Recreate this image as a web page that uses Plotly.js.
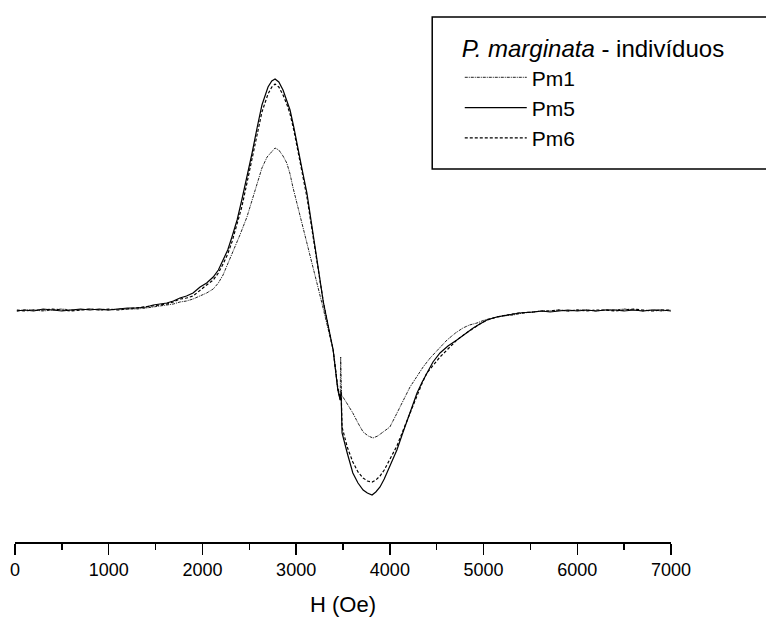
<!DOCTYPE html>
<html>
<head>
<meta charset="utf-8">
<script src="https://cdn.plot.ly/plotly-3.0.1.min.js"></script>
<style>html,body{margin:0;padding:0;background:#fff;}#chart{width:766px;height:617px;}</style>
</head>
<body>
<div id="chart"></div>
<script>
// Field H (Oe) and EPR signal (arbitrary units)
const xPm5 = [20,100,200,300,400,500,600,700,800,900,1000,1100,1200,1300,1400,1475,1550,1620,1690,1760,1830,1900,1975,2045,2115,2170,2220,2270,2315,2370,2420,2475,2530,2585,2635,2700,2740,2775,2815,2860,2900,2935,2975,3020,3065,3115,3180,3255,3290,3340,3395,3445,3470,3480,3490,3545,3605,3660,3715,3760,3810,3850,3895,3940,3980,4030,4075,4130,4185,4240,4290,4345,4395,4460,4535,4620,4715,4800,4890,4960,5035,5140,5250,5380,5530,5620,5710,5800,5900,6000,6100,6200,6300,6400,6500,6600,6700,6800,6900,7000];
const yPm5 = [-1,0,-1,1,0,-1,0,1,0,1,0,1,2,2,3,5,6,7,9,12,14,17,23,27,33,40,50,60,73,90,110,133,157,183,205,223,229,231,228,220,210,200,183,163,140,117,77,30,8,-15,-40,-80,-90,-84,-123,-143,-163,-173,-180,-183,-185,-182,-177,-169,-160,-150,-140,-125,-110,-96,-83,-72,-63,-52,-43,-36,-30,-24,-18,-14,-10,-7,-5,-3,-2,-1,-2,-1,0,-1,0,-1,0,0,-1,0,-1,0,0,-1];

const xPm6 = [20,100,200,300,400,500,600,700,800,900,1000,1100,1200,1300,1400,1475,1550,1620,1690,1760,1830,1900,1975,2045,2115,2170,2220,2270,2315,2370,2420,2475,2530,2585,2635,2700,2740,2775,2815,2860,2900,2935,2975,3020,3065,3115,3180,3255,3290,3340,3395,3445,3470,3480,3490,3545,3605,3660,3715,3760,3810,3850,3895,3940,3980,4030,4075,4130,4185,4240,4290,4345,4395,4460,4535,4620,4715,4800,4890,4960,5035,5140,5250,5380,5530,5620,5710,5800,5900,6000,6100,6200,6300,6400,6500,6600,6700,6800,6900,7000];
const yPm6 = [0,-1,0,0,1,0,-1,0,1,0,1,0,1,2,3,4,5,6,8,11,12,14,20,25,30,37,46,56,68,85,103,127,150,176,198,216,223,226,223,215,206,196,180,160,137,113,75,30,8,-15,-40,-78,-88,-80,-117,-137,-152,-162,-168,-171,-172,-170,-166,-160,-153,-145,-136,-123,-110,-97,-85,-73,-63,-55,-47,-39,-30,-24,-18,-14,-10,-7,-5,-3,-2,-1,-1,0,-1,0,-1,0,0,-1,0,1,0,-1,0,0];

const xPm1 = [20,100,200,300,400,500,600,700,800,900,1000,1100,1200,1300,1400,1475,1550,1620,1690,1760,1830,1900,1975,2045,2115,2170,2220,2270,2325,2400,2475,2530,2580,2635,2690,2740,2775,2815,2860,2900,2935,2965,3020,3075,3130,3180,3235,3285,3340,3395,3445,3470,3475,3485,3520,3560,3605,3660,3715,3770,3820,3870,3915,3960,4000,4055,4110,4160,4215,4285,4355,4430,4505,4560,4610,4700,4780,4850,4930,5010,5100,5200,5315,5420,5530,5620,5710,5800,5900,6000,6100,6200,6300,6400,6500,6600,6700,6800,6900,7000];
const yPm1 = [-1,0,0,-1,0,1,0,0,1,0,0,1,1,1,2,3,4,5,6,8,9,11,14,17,21,27,35,46,58,75,93,110,127,142,153,159,162,160,154,147,136,123,103,83,62,43,22,3,-18,-40,-80,-90,-47,-85,-90,-96,-103,-113,-122,-126,-128,-126,-123,-120,-117,-107,-97,-87,-77,-67,-57,-48,-40,-35,-30,-23,-18,-15,-13,-10,-8,-6,-5,-3,-2,-1,-1,0,-1,0,0,-1,0,0,1,0,-1,0,-1,0];

const names = ['Pm1','Pm5','Pm6'];
const tickVals = [0,1000,2000,3000,4000,5000,6000,7000];
const tickText = ['0','1000','2000','3000','4000','5000','6000','7000'];
const legendTitle = '<i>P. marginata</i> - indivíduos';
const xTitle = 'H (Oe)';

const FONT = 'Liberation Sans, Arial, sans-serif';

const traces = [
  {x: xPm1, y: yPm1, name: names[0], mode: 'lines', line: {color: '#222', width: 1, dash: '3px,1px,1px,1px'}},
  {x: xPm5, y: yPm5, name: names[1], mode: 'lines', line: {color: '#000', width: 1.2}},
  {x: xPm6, y: yPm6, name: names[2], mode: 'lines', line: {color: '#000', width: 1.2, dash: '3px,2px'}}
];

const layout = {
  width: 766, height: 617,
  margin: {l: 15, r: 95, t: 10, b: 75},
  paper_bgcolor: '#fff', plot_bgcolor: '#fff',
  font: {family: FONT, color: '#000'},
  showlegend: true,
  legend: {
    x: 0.678, y: 0.97, xanchor: 'left', yanchor: 'top',
    bgcolor: 'rgba(0,0,0,0)', borderwidth: 0,
    font: {family: FONT, size: 21, color: '#000'},
    title: {text: legendTitle, font: {family: FONT, size: 24, color: '#000'}},
    itemwidth: 62, tracegroupgap: 0
  },
  xaxis: {
    range: [0, 7000], showgrid: false, zeroline: false,
    showline: true, linecolor: '#000', linewidth: 1.5,
    ticks: 'outside', ticklen: 11, tickwidth: 1.5, tickcolor: '#000',
    tickvals: tickVals, ticktext: tickText,
    tickfont: {family: FONT, size: 18, color: '#000'},
    minor: {dtick: 500, tick0: 0, ticks: 'outside', ticklen: 6, tickwidth: 1.5, tickcolor: '#000', showgrid: false},
    title: {text: xTitle, font: {family: FONT, size: 22, color: '#000'}, standoff: 17}
  },
  yaxis: {range: [-232, 300], visible: false, showgrid: false, zeroline: false},
  shapes: [
    {type: 'rect', xref: 'paper', yref: 'paper', x0: 0.636, x1: 1.3, y0: 0.701, y1: 0.987,
     line: {color: '#000', width: 1.5}, fillcolor: 'rgba(0,0,0,0)'}
  ]
};

Plotly.newPlot('chart', traces, layout, {displayModeBar: false, staticPlot: true});
</script>
</body>
</html>
